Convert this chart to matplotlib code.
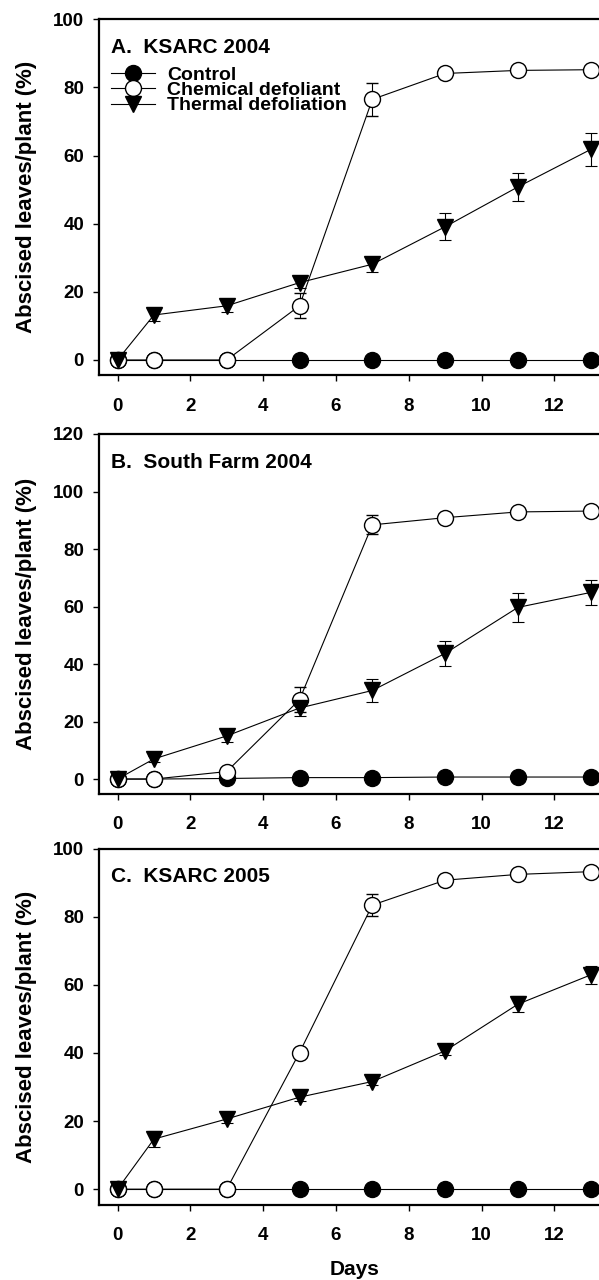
import matplotlib
matplotlib.use('Agg')
import matplotlib.pyplot as plt

plt.rcParams['font.family'] = ['Liberation Sans', 'DejaVu Sans']
plt.rcParams['font.weight'] = 'bold'

days = [0, 1, 3, 5, 7, 9, 11, 13]

# panel A - KSARC 2004
a_control = [0, 0, 0, 0, 0, 0, 0, 0]
a_chem = [0, 0, 0, 15.9, 76.5, 84.1, 85.0, 85.2]
a_chem_err = [0, 0, 0, 3.7, 4.8, 0.5, 0.5, 0.5]
a_thermal = [0, 13.2, 15.9, 22.7, 28.1, 39.1, 50.8, 61.8]
a_thermal_err = [0, 1.8, 1.9, 1.5, 2.2, 3.9, 4.0, 4.8]

# panel B - South Farm 2004
b_control = [0, 0, 0.2, 0.5, 0.5, 0.7, 0.7, 0.7]
b_chem = [0, 0, 2.6, 27.6, 88.4, 90.9, 92.9, 93.2]
b_chem_err = [0, 0, 0, 4.4, 3.3, 0.5, 0.5, 0.5]
b_thermal = [0, 7.0, 15.0, 24.7, 30.8, 43.7, 59.7, 64.9]
b_thermal_err = [0, 1.0, 2.0, 2.7, 4.0, 4.3, 5.0, 4.4]

# panel C - KSARC 2005
c_control = [0, 0, 0, 0, 0, 0, 0, 0]
c_chem = [0, 0, 0, 40.1, 83.4, 90.7, 92.4, 93.2]
c_chem_err = [0, 0, 0, 0.5, 3.2, 0.5, 0.5, 0.5]
c_thermal = [0, 14.7, 20.6, 27.0, 31.6, 40.6, 54.3, 62.9]
c_thermal_err = [0, 2.4, 1.2, 1.0, 1.0, 1.2, 2.4, 2.6]

panels = [
    ('A.  KSARC 2004', a_control, a_chem, a_chem_err, a_thermal, a_thermal_err, (-4.5, 100)),
    ('B.  South Farm 2004', b_control, b_chem, b_chem_err, b_thermal, b_thermal_err, (-5.2, 120)),
    ('C.  KSARC 2005', c_control, c_chem, c_chem_err, c_thermal, c_thermal_err, (-4.5, 100)),
]

H = 1280.0
# (top px, height px) for each panel
boxes = [(19.3, 356), (434, 360), (848.5, 356)]
ms = 11.5

fig = plt.figure(figsize=(5.99, 12.8), dpi=100)
for i, (title, ctrl, chem, chem_err, therm, therm_err, ylim) in enumerate(panels):
    top, h = boxes[i]
    ax = fig.add_axes([0.1658, 1 - (top + h) / H, 0.8508, h / H])
    l1, = ax.plot(days, ctrl, '-o', color='black', lw=0.8, ms=ms, mfc='black', mec='black')
    e2 = ax.errorbar(days, chem, yerr=chem_err, fmt='-o', color='black', lw=0.8, ms=ms,
                     mfc='white', mec='black', mew=1.0, elinewidth=0.8, capsize=4, capthick=0.8)
    e3 = ax.errorbar(days, therm, yerr=therm_err, fmt='-v', color='black', lw=0.8, ms=ms,
                     mfc='black', mec='black', elinewidth=0.8, capsize=4, capthick=0.8)
    ax.set_xlim(-0.5, 13.5)
    ax.set_ylim(*ylim)
    ax.set_xticks(range(0, 13, 2))
    ax.set_yticks(range(0, int(ylim[1]) + 1, 20))
    for s in ax.spines.values():
        s.set_linewidth(1.6)
    ax.tick_params(axis='both', direction='out', length=4, width=1.0, labelsize=13.5,
                   top=False, right=False)
    ax.tick_params(axis='x', pad=12)
    ax.tick_params(axis='y', pad=7)
    ax.text(0.023, 1 - 28 / h, title, transform=ax.transAxes, fontsize=15,
            fontweight='bold', va='center', ha='left')
    ax.set_ylabel('Abscised leaves/plant (%)', fontsize=16, fontweight='bold')
    ax.yaxis.set_label_coords(-0.122, 0.5)
    if i == 0:
        ax.legend([l1, e2[0], e3[0]], ['Control', 'Chemical defoliant', 'Thermal defoliation'],
                  loc='upper left', bbox_to_anchor=(0.023, 0.868),
                  frameon=False, fontsize=14, numpoints=1, handlelength=2.27,
                  handletextpad=0.63, labelspacing=-0.12, borderpad=0,
                  borderaxespad=0)
    if i == 2:
        ax.set_xlabel('Days', fontsize=15, fontweight='bold')
        ax.xaxis.label.set_verticalalignment('baseline')
        ax.xaxis.set_label_coords(0.5, -(1275 - (top + h)) / h)

fig.savefig('out.png', dpi=100)
